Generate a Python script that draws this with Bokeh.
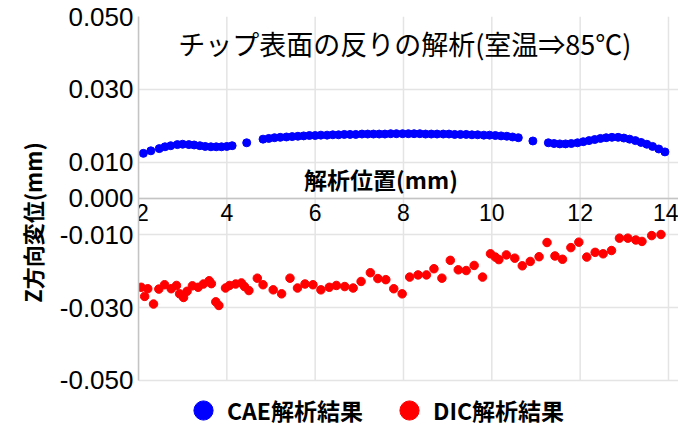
from bokeh.plotting import figure
from bokeh.models import (Range1d, FixedTicker, NumeralTickFormatter, Label,
                          Legend, LegendItem)
from bokeh.embed import file_html
from bokeh.resources import INLINE

# ---- data ----
cae_x = [2.11, 2.28, 2.47, 2.60, 2.73, 2.88, 3.00, 3.14, 3.26, 3.39, 3.51, 3.64, 3.76, 3.88, 4.00, 4.12,
         4.45,
         4.82, 4.95, 5.08, 5.21, 5.35, 5.48, 5.61, 5.74, 5.87, 6.00, 6.13, 6.27, 6.40, 6.53, 6.66,
         6.79, 6.92, 7.06, 7.19, 7.32, 7.45, 7.58, 7.71, 7.84, 7.98, 8.11, 8.24, 8.37, 8.50, 8.63,
         8.76, 8.90, 9.03, 9.16, 9.29, 9.42, 9.55, 9.68, 9.82, 9.95, 10.08, 10.21, 10.34, 10.47, 10.60,
         10.93,
         11.28, 11.41, 11.54, 11.67, 11.80, 11.94, 12.07, 12.20, 12.33, 12.46, 12.59, 12.72, 12.86,
         12.99, 13.12, 13.25, 13.38, 13.51, 13.64, 13.78, 13.92]
cae_y = [0.0124, 0.0131, 0.0137, 0.0142, 0.0145, 0.0148, 0.0149, 0.0148, 0.0147, 0.0145, 0.0143, 0.0142,
         0.0142, 0.0142, 0.0143, 0.0145,
         0.0153,
         0.0163, 0.0165, 0.0167, 0.0168, 0.0169, 0.0170, 0.0171, 0.0172, 0.0173, 0.0173, 0.0174, 0.0174,
         0.0175, 0.0175, 0.0176, 0.0176, 0.0176, 0.0177, 0.0177, 0.0177, 0.0177, 0.0177, 0.0178, 0.0178,
         0.0178, 0.0178, 0.0178, 0.0178, 0.0177, 0.0177, 0.0177, 0.0177, 0.0177, 0.0176, 0.0176, 0.0176,
         0.0175, 0.0175, 0.0174, 0.0174, 0.0173, 0.0172, 0.0171, 0.0169, 0.0167,
         0.0158,
         0.0153, 0.0151, 0.0150, 0.0150, 0.0151, 0.0153, 0.0156, 0.0159, 0.0162, 0.0165, 0.0167, 0.0168,
         0.0168, 0.0166, 0.0163, 0.0159, 0.0154, 0.0149, 0.0143, 0.0136, 0.0128]

dic_x = [2.06, 2.14, 2.21, 2.34, 2.46, 2.59, 2.74, 2.86, 2.93, 3.02, 3.10, 3.22, 3.35, 3.47, 3.60, 3.65,
         3.75, 3.82, 3.97, 4.06, 4.20, 4.33, 4.40, 4.50, 4.69, 4.82, 5.05, 5.24, 5.43, 5.60, 5.77, 5.95,
         6.13, 6.32, 6.48, 6.67, 6.86, 7.04, 7.25, 7.42, 7.60, 7.78, 7.97, 8.14, 8.33, 8.52, 8.69, 8.87,
         9.06, 9.24, 9.42, 9.60, 9.79, 9.97, 10.08, 10.16, 10.33, 10.52, 10.69, 10.87, 11.07, 11.25,
         11.43, 11.60, 11.79, 11.97, 12.15, 12.34, 12.52, 12.71, 12.89, 13.08, 13.26, 13.40, 13.62, 13.83]
dic_y = [-0.0244, -0.0269, -0.0248, -0.0290, -0.0249, -0.0237, -0.0248, -0.0239, -0.0262, -0.0272,
         -0.0255, -0.0240, -0.0244, -0.0235, -0.0226, -0.0234, -0.0284, -0.0294, -0.0246, -0.0239,
         -0.0235, -0.0232, -0.0242, -0.0253, -0.0219, -0.0237, -0.0251, -0.0262, -0.0219, -0.0246,
         -0.0235, -0.0237, -0.0251, -0.0244, -0.0239, -0.0242, -0.0246, -0.0228, -0.0204, -0.0220,
         -0.0223, -0.0248, -0.0262, -0.0216, -0.0210, -0.0210, -0.0193, -0.0219, -0.0170, -0.0196,
         -0.0198, -0.0184, -0.0216, -0.0152, -0.0161, -0.0168, -0.0155, -0.0164, -0.0185, -0.0173,
         -0.0160, -0.0121, -0.0158, -0.0167, -0.0135, -0.0120, -0.0161, -0.0148, -0.0152, -0.0143,
         -0.0109, -0.0109, -0.0114, -0.0118, -0.0102, -0.0099]

x_ticks = [2, 4, 6, 8, 10, 12, 14]
y_ticks = [-0.05, -0.03, -0.01, 0.0, 0.01, 0.03, 0.05]
chart_title = "チップ表面の反りの解析(室温⇒85℃)"
x_title = "解析位置(mm)"
y_title = "Z方向変位(mm)"
series_names = ["CAE解析結果", "DIC解析結果"]
series_colors = ["#0000ff", "#ff0000"]

JP = "Noto Sans CJK JP"
NUM = "Liberation Sans"
GRID = "#e4e4e4"
AXIS = "#c4c4c4"

y_lo, y_hi = min(y_ticks), max(y_ticks)

# the frame reaches below the -0.05 line so the legend can sit inside it
p = figure(width=678, height=428, x_range=Range1d(2, 14.227), y_range=Range1d(-0.0632, 0.05),
           output_backend="svg", toolbar_location=None,
           min_border_left=138, min_border_right=0, min_border_top=16, min_border_bottom=0)
p.outline_line_color = None
p.background_fill_color = "white"

# grids: horizontal from the grid, vertical ones limited to the axis span
p.xgrid.visible = False
p.ygrid.ticker = FixedTicker(ticks=y_ticks)
p.ygrid.grid_line_color = GRID
p.ygrid.grid_line_width = 1.5
p.segment(x0=x_ticks, y0=[y_lo] * len(x_ticks), x1=x_ticks, y1=[y_hi] * len(x_ticks),
          line_color=GRID, line_width=1.5, level="underlay")

# y axis
ya = p.yaxis[0]
ya.bounds = (y_lo, y_hi)
ya.ticker = FixedTicker(ticks=y_ticks)
ya.formatter = NumeralTickFormatter(format="0.000")
ya.major_tick_out = 0
ya.major_tick_in = 0
ya.minor_tick_out = 0
ya.minor_tick_in = 0
ya.axis_line_color = AXIS
ya.axis_line_width = 1.5
ya.major_label_text_font = NUM
ya.major_label_text_font_size = "26px"
ya.major_label_text_color = "black"
ya.major_label_standoff = 5
ya.axis_label = y_title
ya.axis_label_text_font = JP
ya.axis_label_text_font_style = "bold"
ya.axis_label_text_font_size = "22px"
ya.axis_label_text_color = "black"
ya.axis_label_standoff = 9

# x axis at y = 0
xa = p.xaxis[0]
xa.fixed_location = 0
xa.ticker = FixedTicker(ticks=x_ticks)
xa.major_label_overrides = {2: "\u20042"}
xa.major_tick_out = 0
xa.major_tick_in = 0
xa.minor_tick_out = 0
xa.minor_tick_in = 0
xa.axis_line_color = AXIS
xa.axis_line_width = 1.5
xa.major_label_text_font = NUM
xa.major_label_text_font_size = "23px"
xa.major_label_text_color = "black"
xa.major_label_standoff = 2

# data
r_cae = p.scatter(cae_x, cae_y, size=8, color=series_colors[0], line_color=series_colors[0])
r_dic = p.scatter(dic_x, dic_y, size=8.5, color=series_colors[1], line_color=series_colors[1])

# texts
p.add_layout(Label(x=8.03, y=0.0427, text=chart_title, text_font=JP, text_font_size="27px",
                   text_align="center", text_baseline="middle", text_color="black"))
p.add_layout(Label(x=7.49, y=0.0053, text=x_title, text_font=JP, text_font_size="23px",
                   text_font_style="bold", text_align="center", text_baseline="middle",
                   text_color="black"))

legend = Legend(items=[LegendItem(label=series_names[0], renderers=[r_cae]),
                       LegendItem(label=series_names[1], renderers=[r_dic])],
                location=(41, -6), orientation="horizontal",
                glyph_width=48, glyph_height=48, label_standoff=0, spacing=22,
                padding=0, margin=0, border_line_color=None, background_fill_alpha=0,
                label_text_font=JP, label_text_font_style="bold", label_text_font_size="23px",
                label_text_color="black")
p.add_layout(legend)

open("out.html", "w").write(file_html(p, INLINE))
